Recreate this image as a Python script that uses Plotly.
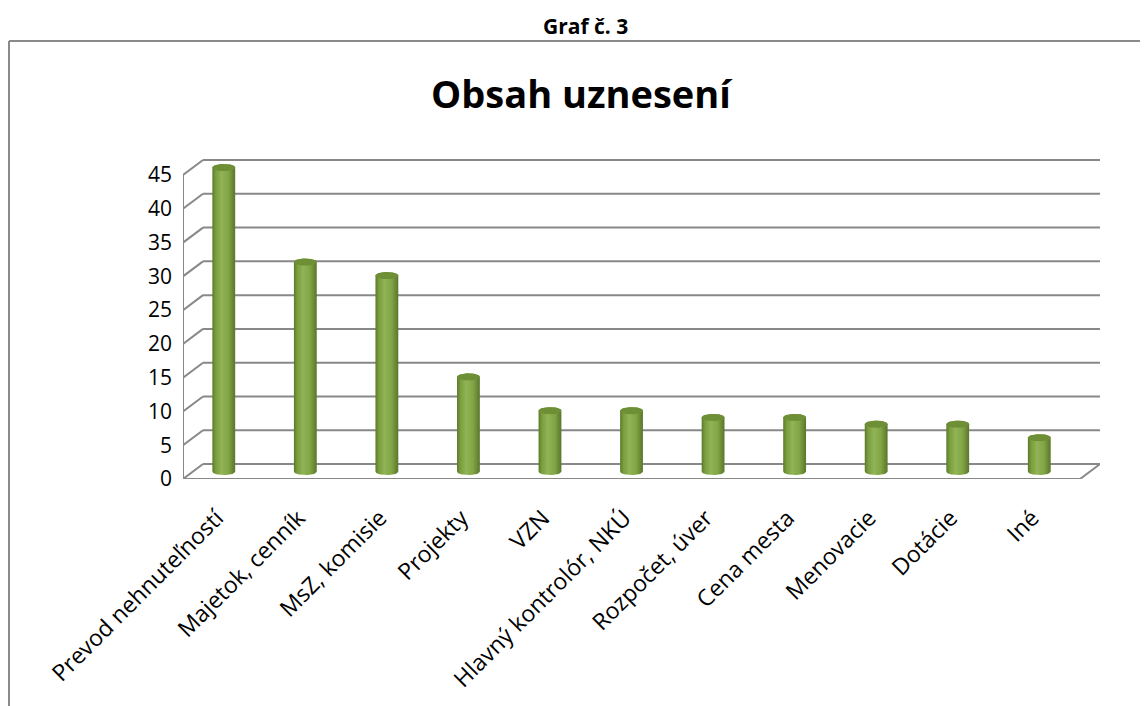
import numpy as np
import plotly.graph_objects as go

categories = ['Prevod nehnuteľností', 'Majetok, cenník', 'MsZ, komisie', 'Projekty', 'VZN',
              'Hlavný kontrolór, NKÚ', 'Rozpočet, úver', 'Cena mesta', 'Menovacie', 'Dotácie', 'Iné']
counts = [45, 31, 29, 14, 9, 9, 8, 8, 7, 7, 5]
y_ticks = [0, 5, 10, 15, 20, 25, 30, 35, 40, 45]

# the page body has an 8px margin, so page pixels are shifted by OFF
OFF = 8
W, H = 1140, 698
# plot area in page pixels
L, R, T, B = 183 - OFF, 1100 - OFF, 150 - OFF, 479 - OFF
n = len(categories)
x_lo = -0.5
px_per_x = 81.55
DX = 20 / px_per_x                     # depth of the 3d box along x
x_hi = (R - L) / px_per_x + x_lo
px_per_y = 6.755
DY = 15 / px_per_y                     # depth of the 3d box along y
y_lo = 0
y_hi = (B - T) / px_per_y

grid_col = '#888888'
fig = go.Figure()

# 3d cylinders
half_w = 0.14
ry = 3.6 / px_per_y
t = np.linspace(0, np.pi, 40)
for i, v in enumerate(counts):
    yb = DY / 2
    yt = v + DY / 2
    bx = i - half_w * np.cos(t)        # left -> right along the lower arc
    by = yb - ry * np.sin(t)
    tx = i + half_w * np.cos(t)        # right -> left along the upper arc
    ty = yt + ry * np.sin(t)
    fig.add_trace(go.Scatter(
        x=np.concatenate([bx, tx, bx[:1]]), y=np.concatenate([by, ty, by[:1]]),
        mode='lines', line=dict(width=0), fill='toself',
        fillgradient=dict(type='horizontal', colorscale=[
            [0, '#5C7A2B'], [0.15, '#7A9E3D'], [0.4, '#90B456'], [0.7, '#82A645'], [1, '#5A762B']]),
        hoverinfo='skip', showlegend=False))
    tt = np.linspace(0, 2 * np.pi, 60)
    fig.add_trace(go.Scatter(
        x=i + half_w * np.cos(tt), y=yt + ry * np.sin(tt),
        mode='lines', line=dict(width=0), fill='toself', fillcolor='#6F8F36',
        hoverinfo='skip', showlegend=False))

shapes = []
line = dict(color=grid_col, width=2)
# back wall gridlines and left-wall diagonals
for k in y_ticks:
    shapes.append(dict(type='line', xref='x', yref='y', x0=x_lo + DX, x1=n - 0.5 + DX,
                       y0=k + DY, y1=k + DY, line=line, layer='below'))
    shapes.append(dict(type='line', xref='x', yref='y', x0=x_lo, x1=x_lo + DX,
                       y0=k, y1=k + DY, line=line, layer='below'))
    # y tick marks
    shapes.append(dict(type='line', xref='x', yref='y', xsizemode='pixel', xanchor=x_lo,
                       x0=-7, x1=0, y0=k, y1=k, line=line))
# floor front edge, right edge, left axis
shapes.append(dict(type='line', xref='x', yref='y', x0=x_lo, x1=n - 0.5, y0=0, y1=0, line=line))
shapes.append(dict(type='line', xref='x', yref='y', x0=n - 0.5, x1=n - 0.5 + DX, y0=0, y1=DY, line=line))
shapes.append(dict(type='line', xref='x', yref='y', x0=x_lo, x1=x_lo, y0=0, y1=y_ticks[-1], line=line))
# x tick marks at category boundaries
for j in range(n + 1):
    shapes.append(dict(type='line', xref='x', yref='y', ysizemode='pixel', yanchor=0,
                       x0=j - 0.5, x1=j - 0.5, y0=0, y1=-7, line=line))


# page pixel -> paper coordinates
def px_x(p):
    return (p - OFF - L) / (R - L)


def px_y(p):
    return (B - (p - OFF)) / (B - T)


# chart frame
shapes.append(dict(type='line', xref='paper', yref='paper', x0=px_x(9), x1=px_x(1160),
                   y0=px_y(41), y1=px_y(41), line=dict(color='#8A8A8A', width=2)))
shapes.append(dict(type='line', xref='paper', yref='paper', x0=px_x(9), x1=px_x(9),
                   y0=px_y(41), y1=px_y(720), line=dict(color='#8A8A8A', width=2)))

fig.update_layout(
    width=W, height=H,
    margin=dict(l=L, r=W - R, t=T, b=H - B),
    plot_bgcolor='white', paper_bgcolor='white',
    font=dict(family='Open Sans, sans-serif', color='black'),
    shapes=shapes,
    xaxis=dict(range=[x_lo, x_hi], tickvals=list(range(n)), ticktext=categories,
               tickangle=-45, showgrid=False, zeroline=False, showline=False, automargin=False,
               ticks='', tickfont=dict(size=23), ticklabelstandoff=20, ticklabelshift=-7),
    yaxis=dict(range=[y_lo, y_hi], tickvals=y_ticks, showgrid=False, zeroline=False,
               showline=False, ticks='', tickfont=dict(size=21), ticklabelstandoff=10,
               automargin=False),
    annotations=[
        dict(text='<b>Graf č. 3</b>', xref='paper', yref='paper', x=px_x(585), y=px_y(26),
             yanchor='middle', showarrow=False, font=dict(size=21, family='Open Sans')),
        dict(text='<b>Obsah uznesení</b>', xref='paper', yref='paper', x=px_x(582), y=px_y(93),
             yanchor='middle', showarrow=False, font=dict(size=38, family='Open Sans')),
    ],
)

fig.write_html('out.html')
